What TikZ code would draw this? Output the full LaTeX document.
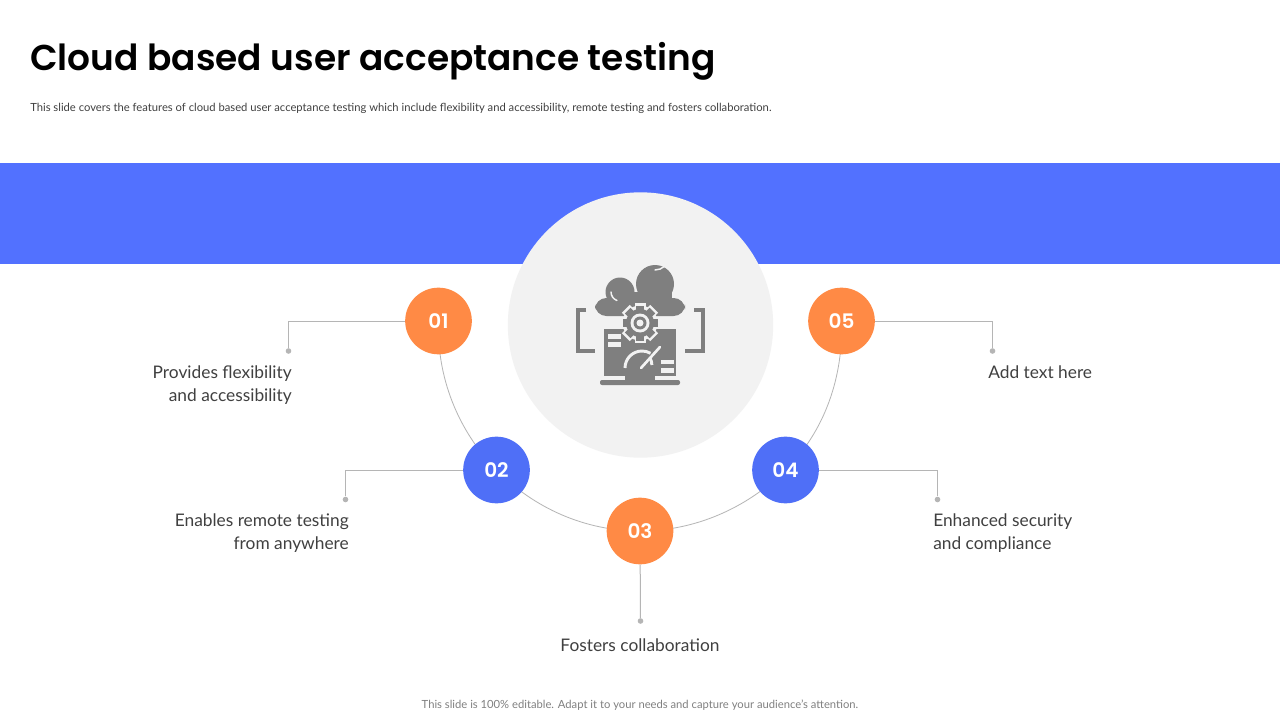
\documentclass[tikz,border=0pt]{standalone}
\usepackage{fontspec}
\setmainfont{Lato}
\newfontfamily\headfont{Poppins SemiBold}
\usetikzlibrary{backgrounds}
\definecolor{bandblue}{HTML}{5271FF}
\definecolor{nodeblue}{HTML}{4F6FF7}
\definecolor{nodeorange}{HTML}{FF8A45}
\definecolor{pale}{HTML}{F2F2F2}
\definecolor{icon}{HTML}{7F7F7F}
\definecolor{leader}{HTML}{B5B5B5}
\definecolor{body}{HTML}{404040}
\newcommand{\numtext}[1]{\raisebox{-0.7pt}{#1}}
\tikzset{
  x=0.75pt,y=-0.75pt,
  num/.style={circle,minimum size=50pt,inner sep=0pt,text=white,font=\headfont\fontsize{15}{15}\selectfont},
  numo/.style={num,fill=nodeorange},
  numb/.style={num,fill=nodeblue},
  dot/.style={circle,fill=leader,minimum size=4.2pt,inner sep=0pt},
  lead/.style={draw=leader,line width=0.75pt},
  arcline/.style={draw=leader,line width=0.6pt,looseness=0.89},
  lab/.style={text=body,font=\fontsize{13}{17.25}\selectfont,inner sep=0pt},
  iconfill/.style={fill=icon,draw=none},
}
\begin{document}
\begin{tikzpicture}
\useasboundingbox (0,0) rectangle (1280,720);
\begin{pgfonlayer}{background}
\fill[white] (0,0) rectangle (1280,720);
\end{pgfonlayer}
\node[anchor=base west,inner sep=0pt,font=\headfont\fontsize{26.95}{30}\selectfont,text=black] (title) at (30,71) {Cloud based user acceptance testing};
\node[anchor=base west,inner sep=0pt,font=\fontsize{8.42}{10}\selectfont,text=body] (sub) at (30,111.5) {This slide covers the features of cloud based user acceptance testing which include flexibility and accessibility, remote testing and fosters collaboration.};
\fill[bandblue] (0,163) rectangle (1280,264);
\node[circle,fill=pale,minimum size=199pt,inner sep=0pt] (hub) at (640.5,325) {};
% icon
\fill[iconfill] (620,292) circle (14.5);
\fill[iconfill] (655,284) circle (19);
\fill[iconfill,rounded corners=8.5] (595,298) rectangle (685,316);
\fill[iconfill] (612,292) rectangle (672,305);
\draw[pale,line width=1.1pt,line cap=round] (611,292) arc (180:110:9);
\draw[pale,line width=1.1pt,line cap=round] (655,270) arc (90:5:14);
\fill[iconfill] (604,329) rectangle (676,376);
\fill[iconfill,rounded corners=1.5] (600,380) rectangle (680,385);
\fill[iconfill] (625,376) rectangle (655,381);
\draw[icon,line width=3pt] (586,309.5) -- (577.5,309.5) -- (577.5,351) -- (595,351);
\draw[icon,line width=3pt] (694,309.5) -- (702.5,309.5) -- (702.5,351) -- (685,351);
% gear
\foreach \a in {0,45,...,315}{
  \fill[pale,rotate around={\a:(640,323)}] (634.5,303) rectangle (645.5,312);
}
\fill[pale] (640,323) circle (17.5);
\foreach \a in {0,45,...,315}{
  \fill[iconfill,rotate around={\a:(640,323)}] (636,305.5) rectangle (644,312);
}
\fill[iconfill] (640,323) circle (14);
\fill[pale] (640,323) circle (9.5);
\fill[iconfill] (640,323) circle (6.5);
\fill[pale] (640,323) circle (3.5);
% screen content
\fill[pale] (608,334) rectangle (621,338.5);
\fill[pale] (608,342) rectangle (621,346.5);
\fill[pale] (661,359.5) rectangle (674,364);
\fill[pale] (661,368) rectangle (674,372.5);
\draw[pale,line width=2.2pt] (625,368) arc (180:300:17);
\draw[pale,line width=2pt,line cap=round] (641,368) -- (660,347);
\draw[pale,line width=2.2pt] (650,358) arc (-30:0:14);
% nodes
\node[numo] (n1) at (438.5,321) {\numtext{01}};
\node[numb] (n2) at (496.5,470) {\numtext{02}};
\node[numo] (n3) at (640,531) {\numtext{03}};
\node[numb] (n4) at (785.5,470) {\numtext{04}};
\node[numo] (n5) at (841.5,321) {\numtext{05}};
\node[dot] (d1) at (288.5,351) {};
\node[dot] (d2) at (345.5,499.5) {};
\node[dot] (d3) at (640.5,621) {};
\node[dot] (d4) at (937.5,499.5) {};
\node[dot] (d5) at (992.5,351) {};
\begin{pgfonlayer}{background}
\draw[arcline] (n1.center) to[out=-92,in=134.5] (n2.center);
\draw[arcline] (n2.center) to[out=-45.5,in=180] (n3.center);
\draw[arcline] (n3.center) to[out=0,in=224.5] (n4.center);
\draw[arcline] (n4.center) to[out=44.5,in=-88] (n5.center);
\end{pgfonlayer}
\draw[lead] (n1) -| (d1);
\draw[lead] (n2) -| (d2);
\draw[lead] (n3) -- (d3);
\draw[lead] (n4) -| (d4);
\draw[lead] (n5) -| (d5);
\node[lab,align=right,anchor=east] (t1) at (292,385) {Provides flexibility\\and accessibility};
\node[lab,align=right,anchor=east] (t2) at (349,533) {Enables remote testing\\from anywhere};
\node[lab,align=center] (t3) at (640,645) {Fosters collaboration};
\node[lab,align=left,anchor=west] (t4) at (933,533) {Enhanced security\\and compliance};
\node[lab,align=left,anchor=west] (t5) at (988,372) {Add text here};
\node[inner sep=0pt,font=\fontsize{8.42}{10}\selectfont,text=gray] (foot) at (640,704.7) {This slide is 100\% editable. Adapt it to your needs and capture your audience's attention.};
\end{tikzpicture}
\end{document}
